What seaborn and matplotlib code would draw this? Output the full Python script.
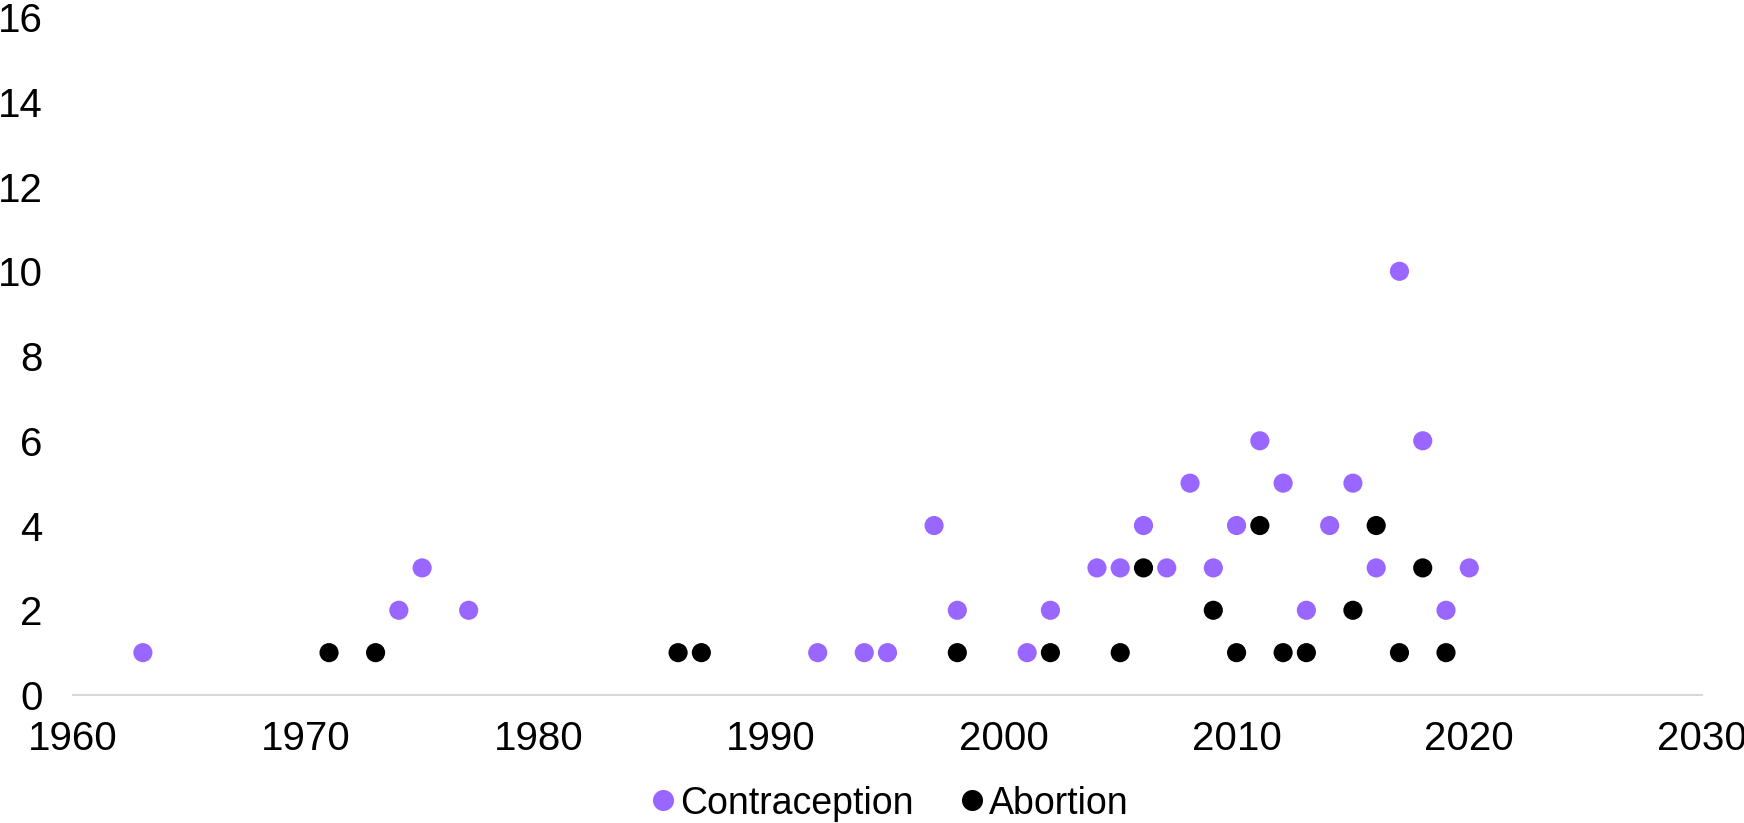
import pandas as pd
import matplotlib.pyplot as plt
import seaborn as sns

# dados
anos_contracepcao = [1963, 1974, 1975, 1977, 1992, 1994, 1995, 1997, 1998, 2001,
                     2002, 2004, 2005, 2006, 2007, 2008, 2009, 2010, 2011, 2012,
                     2013, 2014, 2015, 2016, 2017, 2018, 2019, 2020]
casos_contracepcao = [1, 2, 3, 2, 1, 1, 1, 4, 2, 1,
                      2, 3, 3, 4, 3, 5, 3, 4, 6, 5,
                      2, 4, 5, 3, 10, 6, 2, 3]

anos_aborto = [1971, 1973, 1986, 1987, 1998, 2002, 2005, 2006, 2009, 2010,
               2011, 2012, 2013, 2015, 2016, 2017, 2018, 2019]
casos_aborto = [1, 1, 1, 1, 1, 1, 1, 3, 2, 1,
                4, 1, 1, 2, 4, 1, 3, 1]

df = pd.concat([
    pd.DataFrame({"ano": anos_contracepcao, "casos": casos_contracepcao, "tipo": "Contraception"}),
    pd.DataFrame({"ano": anos_aborto, "casos": casos_aborto, "tipo": "Abortion"}),
])

sns.set_style("white")
plt.rcParams["font.family"] = ["Liberation Sans", "DejaVu Sans"]
plt.rcParams["text.color"] = "black"
plt.rcParams["xtick.color"] = "black"
plt.rcParams["ytick.color"] = "black"

fig = plt.figure(figsize=(17.44, 8.23), dpi=100)
ax = fig.add_axes([0.0419, 0.1555, 0.934, 0.8238])

sns.scatterplot(data=df, x="ano", y="casos", hue="tipo",
                palette={"Contraception": "#9966FF", "Abortion": "#000000"},
                s=190, linewidth=0, ax=ax, clip_on=False)

ax.set_xlim(1960, 2030)
ax.set_ylim(0, 16)
ax.set_xticks(range(1960, 2031, 10))
ax.set_yticks(range(0, 17, 2))
ax.set_xlabel("")
ax.set_ylabel("")
for s in ["top", "right", "left"]:
    ax.spines[s].set_visible(False)
ax.spines["bottom"].set_color("#D9D9D9")
ax.spines["bottom"].set_linewidth(1.5)
ax.tick_params(axis="both", length=0, labelsize=29)
ax.tick_params(axis="y", pad=22)
ax.tick_params(axis="x", pad=18)

ax.legend(loc="center", bbox_to_anchor=(0.5, -0.16), ncol=2, frameon=False,
          fontsize=27, handletextpad=0.0, columnspacing=1.1, markerscale=1.1,
          handlelength=0.9)

plt.savefig("out.png", dpi=100)
